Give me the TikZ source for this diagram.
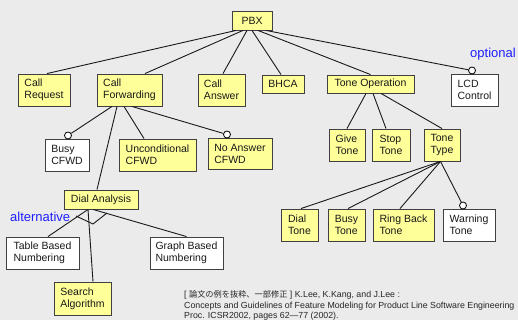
\documentclass[tikz,border=0pt]{standalone}
\usepackage{fontspec}
\setmainfont{Liberation Sans}
\newfontfamily\jpfont{Noto Sans CJK JP}
\definecolor{bgc}{RGB}{235,235,235}
\definecolor{featy}{RGB}{255,255,153}
\definecolor{lblue}{RGB}{30,30,255}
\tikzset{
  feat/.style={draw=black!75, fill=featy, line width=0.9pt, inner xsep=2pt, inner ysep=1pt,
    align=left, font=\fontsize{10.5}{12}\selectfont, text=black!90},
  featw/.style={feat, fill=white},
  optc/.style={circle, draw=black, fill=white, line width=0.8pt, minimum size=7pt, inner sep=0pt},
  conn/.style={draw=black!90, line width=0.9pt},
  lbl/.style={text=lblue, font=\fontsize{13}{15}\selectfont, inner sep=0pt, anchor=base west},
  note/.style={text=black!85, font=\fontsize{8.8}{11}\selectfont, inner sep=0pt, anchor=base west}
}
\begin{document}
\begin{tikzpicture}[x=1pt,y=-1pt]
\fill[bgc] (0,0) rectangle (518,320);
\useasboundingbox (0,0) rectangle (518,320);

% level 1
\node[feat, align=center, minimum width=40pt, minimum height=19pt] (pbx) at (252,20.5) {PBX};

% level 2
\node[feat, minimum width=52pt, minimum height=32pt] (creq) at (44,90) {Call\\Request};
\node[feat, minimum width=65pt, minimum height=32pt] (cfwd) at (129.5,90) {Call\\Forwarding};
\node[feat, minimum width=47pt, minimum height=32pt] (cans) at (221.5,90) {Call\\Answer};
\node[feat, align=center, minimum width=42pt, minimum height=18pt] (bhca) at (283,84) {BHCA};
\node[feat, align=center, minimum width=87pt, minimum height=18pt] (tone) at (370.5,84) {Tone Operation};
\node[featw, minimum width=47pt, minimum height=32pt] (lcd) at (474.5,90) {LCD\\Control};
\node[optc] (lcdc) at (472,70.5) {};

% call forwarding children
\node[featw, minimum width=44pt, minimum height=32pt] (busy) at (67,155) {Busy\\CFWD};
\node[optc] (busyc) at (68,135.5) {};
\node[feat, minimum width=77pt, minimum height=32pt] (uncond) at (157.5,155) {Unconditional\\CFWD};
\node[feat, minimum width=64pt, minimum height=31pt] (noans) at (240,153.5) {No Answer\\CFWD};
\node[optc] (noansc) at (227,134.5) {};
\node[feat, align=center, minimum width=74pt, minimum height=19pt] (dial) at (101,199.5) {Dial Analysis};

% dial analysis children
\node[featw, minimum width=73pt, minimum height=32pt] (table) at (42.5,253) {Table Based\\Numbering};
\node[featw, minimum width=73pt, minimum height=32pt] (graph) at (186.5,253) {Graph Based\\Numbering};
\node[feat, minimum width=57pt, minimum height=33pt] (search) at (82.5,298.5) {Search\\Algorithm};

% tone operation children
\node[feat, minimum width=36pt, minimum height=32pt] (give) at (347,145) {Give\\Tone};
\node[feat, minimum width=38pt, minimum height=32pt] (stop) at (391,145) {Stop\\Tone};
\node[feat, minimum width=36pt, minimum height=32pt] (ttype) at (442,145) {Tone\\Type};

% tone type children
\node[feat, minimum width=37pt, minimum height=32pt] (dialt) at (299.5,225) {Dial\\Tone};
\node[feat, minimum width=37pt, minimum height=32pt] (busyt) at (346.5,225) {Busy\\Tone};
\node[feat, minimum width=61pt, minimum height=32pt] (ring) at (403.5,225) {Ring Back\\Tone};
\node[featw, minimum width=52pt, minimum height=32pt] (warn) at (469,225) {Warning\\Tone};
\node[optc] (warnc) at (463,205.5) {};

% connectors
\draw[conn] ([xshift=-16pt]pbx.south) -- ([xshift=3pt]creq.north);
\draw[conn] ([xshift=-9pt]pbx.south) -- ([xshift=15.5pt]cfwd.north);
\draw[conn] ([xshift=-5pt]pbx.south) -- ([xshift=1.5pt]cans.north);
\draw[conn] (pbx.south) -- ([xshift=-2pt]bhca.north);
\draw[conn] ([xshift=6pt]pbx.south) -- (tone.north);
\draw[conn] ([xshift=14pt]pbx.south) -- (lcdc);

\draw[conn] ([xshift=-17.5pt]cfwd.south) -- (busyc);
\draw[conn] ([xshift=-12.5pt]cfwd.south) -- ([xshift=-4pt]dial.north);
\draw[conn] ([xshift=-5.5pt]cfwd.south) -- ([xshift=-13.5pt]uncond.north);
\draw[conn] ([xshift=2.5pt]cfwd.south) -- (noansc);

\draw[conn] ([xshift=-13pt]dial.south) -- ([xshift=5.5pt]table.north);
\draw[conn] ([xshift=-13pt]dial.south) -- ([xshift=10.5pt]search.north);
\draw[conn] ([xshift=-8pt]dial.south) -- (graph.north);
\coordinate (altl) at (76,216);
\coordinate (altm) at (93,224);
\coordinate (altr) at (107,213);
\draw[conn] (altl) -- (altm) -- (altr);

\draw[conn] ([xshift=-4.5pt]tone.south) -- (give.north);
\draw[conn] ([xshift=2.5pt]tone.south) -- ([xshift=-5pt]stop.north);
\draw[conn] ([xshift=10.5pt]tone.south) -- (ttype.north);

\draw[conn] ([xshift=-1.5pt]ttype.south) -- ([xshift=1.5pt]dialt.north);
\draw[conn] ([xshift=-1.5pt]ttype.south) -- ([xshift=1.5pt]busyt.north);
\draw[conn] ([xshift=-1.5pt]ttype.south) -- ([xshift=-3.5pt]ring.north);
\draw[conn] ([xshift=-1.5pt]ttype.south) -- (warnc);

% labels
\node[lbl] (optlbl) at (470,57.5) {optional};
\node[lbl] (altlbl) at (10,221) {alternative};

% reference note
\node[note] (n1) at (184,297.5) {[ {\jpfont\fontsize{8.2}{10}\selectfont 論文の例を抜粋、一部修正} ] K.Lee, K.Kang, and J.Lee :};
\node[note] (n2) at (184,308.5) {Concepts and Guidelines of Feature Modeling for Product Line Software Engineering};
\node[note] (n3) at (184,318.5) {Proc. ICSR2002, pages 62—77 (2002).};
\end{tikzpicture}
\end{document}
